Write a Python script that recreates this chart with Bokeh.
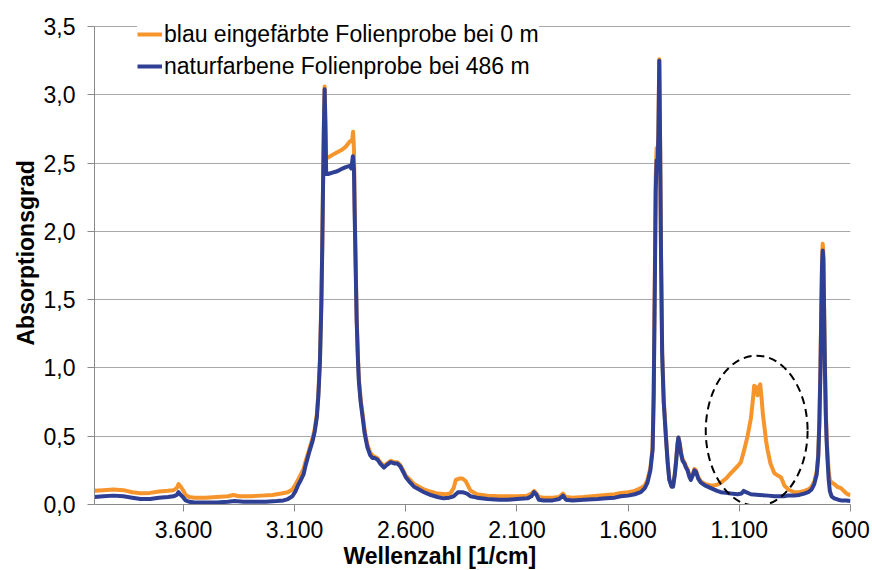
from bokeh.plotting import figure
from bokeh.models import (Range1d, FixedTicker, CustomJSTickFormatter, Legend,
                          LegendItem, Title, ColumnDataSource)
from bokeh.embed import file_html
from bokeh.resources import INLINE

# --- FTIR spectra: wavenumber [1/cm] and absorbance ---------------------------
wn_blau = [
    4000, 3960, 3915, 3870, 3830, 3793, 3750, 3710, 3670, 3645, 3630, 3622, 3612,
    3600, 3590, 3575, 3550, 3500, 3450, 3400, 3375, 3350, 3300, 3250, 3200, 3160,
    3131, 3110, 3095, 3085, 3075, 3060, 3050, 3035, 3020, 3010, 3000, 2993, 2986,
    2980, 2976, 2972, 2968, 2965, 2962, 2958, 2950, 2930, 2908, 2885, 2870, 2851,
    2842, 2837, 2833, 2830, 2825, 2821, 2815, 2811, 2803, 2795, 2785, 2773, 2760,
    2750, 2740, 2728, 2715, 2698, 2685, 2668, 2650, 2638, 2625, 2612, 2600, 2580,
    2563, 2540, 2518, 2490, 2458, 2420, 2400, 2385, 2375, 2360, 2345, 2330, 2318,
    2308, 2280, 2233, 2180, 2143, 2100, 2053, 2035, 2023, 2012, 2002, 1980, 1940,
    1910, 1893, 1880, 1850, 1800, 1738, 1700, 1660, 1633, 1600, 1570, 1543, 1525,
    1513, 1500, 1490, 1485, 1480, 1476, 1472, 1468, 1464, 1460, 1456, 1452, 1447,
    1440, 1430, 1422, 1415, 1405, 1398, 1390, 1384, 1378, 1374, 1368, 1362, 1355,
    1347, 1340, 1333, 1324, 1318, 1310, 1302, 1295, 1285, 1273, 1255, 1228, 1213,
    1200, 1183, 1160, 1138, 1120, 1108, 1093, 1078, 1063, 1048, 1040, 1033, 1026,
    1018, 1012, 1006, 1000, 994, 988, 980, 973, 960, 943, 925, 913, 905, 898, 880,
    853, 830, 808, 790, 775, 763, 752, 745, 740, 735, 731, 728, 725, 722, 719, 715,
    711, 707, 703, 698, 693, 685, 673, 660, 643, 625, 613, 600,
]
abs_blau = [
    0.10, 0.105, 0.11, 0.105, 0.09, 0.083, 0.085, 0.095, 0.10, 0.105, 0.12, 0.15, 0.13,
    0.10, 0.07, 0.055, 0.05, 0.05, 0.055, 0.06, 0.07, 0.06, 0.06, 0.065, 0.07, 0.08,
    0.09, 0.11, 0.15, 0.18, 0.21, 0.26, 0.32, 0.40, 0.48, 0.55, 0.66, 0.82, 1.07,
    1.47, 1.87, 2.37, 2.82, 3.06, 2.85, 2.55, 2.54, 2.56, 2.58, 2.60, 2.62, 2.66,
    2.66, 2.73, 2.60, 2.20, 1.72, 1.37, 1.07, 0.92, 0.77, 0.67, 0.54, 0.44, 0.38,
    0.36, 0.35, 0.34, 0.31, 0.28, 0.30, 0.32, 0.31, 0.31, 0.29, 0.25, 0.21, 0.18,
    0.15, 0.13, 0.11, 0.095, 0.08, 0.075, 0.08, 0.12, 0.18, 0.19, 0.19, 0.17, 0.13,
    0.10, 0.075, 0.065, 0.06, 0.06, 0.06, 0.065, 0.08, 0.10, 0.08, 0.055, 0.05, 0.05,
    0.055, 0.08, 0.055, 0.05, 0.055, 0.065, 0.07, 0.075, 0.085, 0.09, 0.10, 0.12, 0.14,
    0.18, 0.27, 0.42, 0.85, 1.70, 2.40, 2.61, 2.50, 2.75, 3.26, 2.62, 1.82, 1.12,
    0.77, 0.50, 0.31, 0.19, 0.14, 0.14, 0.23, 0.33, 0.45, 0.49, 0.45, 0.38, 0.33,
    0.31, 0.28, 0.26, 0.21, 0.19, 0.22, 0.26, 0.25, 0.20, 0.17, 0.15, 0.14, 0.14,
    0.145, 0.16, 0.19, 0.23, 0.26, 0.28, 0.31, 0.40, 0.50, 0.63, 0.75, 0.87, 0.86,
    0.80, 0.86, 0.88, 0.78, 0.66, 0.58, 0.47, 0.40, 0.30, 0.23, 0.21, 0.20, 0.17, 0.14, 0.11,
    0.09, 0.09, 0.10, 0.11, 0.13, 0.17, 0.24, 0.37, 0.62, 1.02, 1.48, 1.80, 1.91, 1.84, 1.48, 1.03,
    0.68, 0.48, 0.36, 0.24, 0.18, 0.16, 0.15, 0.13, 0.12, 0.09, 0.075, 0.07,
]

wn_natur = [
    4000, 3960, 3915, 3870, 3830, 3793, 3750, 3710, 3670, 3645, 3630, 3622, 3612,
    3600, 3590, 3575, 3550, 3500, 3450, 3400, 3370, 3330, 3280, 3230, 3180, 3150,
    3130, 3110, 3095, 3085, 3075, 3060, 3050, 3035, 3020, 3010, 3000, 2993, 2986,
    2980, 2976, 2972, 2968, 2965, 2962, 2958, 2950, 2930, 2908, 2885, 2870, 2851,
    2845, 2838, 2833, 2830, 2825, 2821, 2815, 2811, 2803, 2795, 2785, 2773, 2760,
    2750, 2740, 2728, 2715, 2698, 2685, 2668, 2650, 2638, 2625, 2612, 2600, 2580,
    2563, 2540, 2518, 2490, 2458, 2430, 2405, 2385, 2365, 2345, 2325, 2308, 2280,
    2233, 2180, 2143, 2100, 2053, 2035, 2023, 2012, 2002, 1980, 1940, 1910, 1893,
    1880, 1850, 1800, 1738, 1700, 1660, 1633, 1600, 1570, 1543, 1525, 1513, 1500,
    1490, 1485, 1480, 1476, 1472, 1468, 1464, 1460, 1456, 1452, 1447, 1440, 1430,
    1422, 1415, 1405, 1398, 1390, 1384, 1378, 1374, 1368, 1362, 1355, 1347, 1340,
    1333, 1324, 1318, 1310, 1302, 1295, 1285, 1273, 1255, 1228, 1200, 1183, 1160,
    1138, 1108, 1090, 1080, 1070, 1048, 1010, 970, 943, 900, 883, 853, 830, 808,
    790, 775, 763, 752, 745, 740, 735, 731, 728, 725, 722, 719, 715, 711, 707, 703,
    698, 693, 685, 673, 655, 643, 620, 600,
]
abs_natur = [
    0.055, 0.06, 0.065, 0.06, 0.05, 0.04, 0.04, 0.05, 0.055, 0.06, 0.07, 0.09, 0.07,
    0.05, 0.03, 0.02, 0.015, 0.015, 0.015, 0.02, 0.025, 0.02, 0.02, 0.02, 0.025, 0.03,
    0.04, 0.06, 0.10, 0.14, 0.17, 0.22, 0.29, 0.38, 0.46, 0.53, 0.64, 0.80, 1.05,
    1.45, 1.85, 2.35, 2.80, 3.04, 2.80, 2.42, 2.42, 2.43, 2.44, 2.46, 2.47, 2.48,
    2.46, 2.55, 2.45, 2.13, 1.70, 1.35, 1.05, 0.90, 0.75, 0.65, 0.52, 0.42, 0.36,
    0.34, 0.34, 0.33, 0.30, 0.27, 0.29, 0.31, 0.30, 0.30, 0.28, 0.24, 0.20, 0.16,
    0.13, 0.11, 0.09, 0.07, 0.055, 0.045, 0.05, 0.06, 0.09, 0.09, 0.08, 0.06, 0.05,
    0.04, 0.035, 0.035, 0.04, 0.045, 0.06, 0.09, 0.07, 0.035, 0.03, 0.03, 0.04, 0.065,
    0.035, 0.03, 0.035, 0.04, 0.045, 0.05, 0.06, 0.065, 0.075, 0.09, 0.12, 0.16, 0.25,
    0.40, 0.80, 1.60, 2.30, 2.52, 2.45, 2.70, 3.25, 2.60, 1.80, 1.10, 0.75, 0.49,
    0.30, 0.18, 0.13, 0.13, 0.22, 0.32, 0.44, 0.49, 0.44, 0.37, 0.32, 0.30, 0.27,
    0.25, 0.20, 0.18, 0.21, 0.25, 0.24, 0.19, 0.16, 0.14, 0.12, 0.10, 0.09, 0.085,
    0.08, 0.075, 0.08, 0.10, 0.09, 0.075, 0.07, 0.065, 0.06, 0.06, 0.065, 0.065, 0.07, 0.08,
    0.09, 0.11, 0.15, 0.22, 0.35, 0.60, 1.00, 1.45, 1.75, 1.86, 1.80, 1.45, 1.00, 0.65, 0.45, 0.32,
    0.18, 0.10, 0.06, 0.045, 0.035, 0.03, 0.03, 0.025,
]

series_labels = ["blau eingefärbte Folienprobe bei 0 m",
                 "naturfarbene Folienprobe bei 486 m"]
x_ticks = [600, 1100, 1600, 2100, 2600, 3100, 3600]
y_ticks = [0.0, 0.5, 1.0, 1.5, 2.0, 2.5, 3.0, 3.5]

# highlighted band around 1020 1/cm
ring_x, ring_y, ring_w, ring_h = 1022, 0.54, 458, 1.10

FONT = "Liberation Sans"
FS = "23px"
ORANGE = "#F5952B"
BLUE = "#2E3F94"
GRID = "#a8a8a8"
AXIS = "#8a8a8a"

# the value axis runs to 3.5; the frame reaches a little higher so the
# legend (sitting on the 3.5 line) is not clipped
Y_TOP = 3.5
FRAME_H_AXIS = 478      # pixels between 0 and 3.5
FRAME_H = 502           # full frame height
y_end = Y_TOP * FRAME_H / FRAME_H_AXIS

p = figure(width=872, height=570, output_backend="svg", toolbar_location=None,
           x_range=Range1d(4000, 600), y_range=Range1d(0, y_end),
           min_border_left=94, min_border_right=22, min_border_top=2,
           min_border_bottom=66)
p.outline_line_color = None
p.background_fill_color = "white"
p.border_fill_color = "white"
p.xgrid.visible = False
p.ygrid.grid_line_color = GRID
p.ygrid.grid_line_width = 1

for ax in (p.xaxis[0], p.yaxis[0]):
    ax.axis_line_color = AXIS
    ax.major_tick_line_color = AXIS
    ax.major_tick_out = 7
    ax.major_tick_in = 0
    ax.minor_tick_line_color = None
    ax.major_label_text_font = FONT
    ax.major_label_text_font_size = FS
    ax.major_label_text_color = "black"

p.yaxis.bounds = (0, Y_TOP)
p.xaxis.ticker = FixedTicker(ticks=x_ticks)
p.yaxis.ticker = FixedTicker(ticks=y_ticks)
p.ygrid.ticker = FixedTicker(ticks=y_ticks)
p.xaxis.formatter = CustomJSTickFormatter(code="""
    if (tick >= 1000) {
        return Math.floor(tick / 1000) + '.' + String(tick % 1000).padStart(3, '0');
    }
    return String(tick);
""")
p.yaxis.formatter = CustomJSTickFormatter(code="return tick.toFixed(1).replace('.', ',');")
p.xaxis.major_label_standoff = 9
p.yaxis.major_label_standoff = 12

src_blau = ColumnDataSource(dict(x=wn_blau, y=abs_blau))
src_natur = ColumnDataSource(dict(x=wn_natur, y=abs_natur))

r_blau = p.line("x", "y", source=src_blau, line_color=ORANGE, line_width=4,
                line_join="round")
r_natur = p.line("x", "y", source=src_natur, line_color=BLUE, line_width=4,
                 line_join="round")

p.ellipse(x=[ring_x], y=[ring_y], width=[ring_w], height=[ring_h],
          fill_color=None, line_color="black", line_width=2, line_dash="8 5")

# axis titles, placed relative to the whole chart area
p.add_layout(Title(text="Wellenzahl [1/cm]", align="left", offset=249,
                   text_font=FONT, text_font_size=FS, text_font_style="bold",
                   text_color="black", standoff=0), "below")
p.add_layout(Title(text="Absorptionsgrad", align="left", offset=159,
                   text_font=FONT, text_font_size=FS, text_font_style="bold",
                   text_color="black", standoff=4), "left")

legend = Legend(items=[LegendItem(label=series_labels[0], renderers=[r_blau]),
                       LegendItem(label=series_labels[1], renderers=[r_natur])],
                location=(43, 423), orientation="vertical")
legend.label_text_font = FONT
legend.label_text_font_size = FS
legend.label_text_color = "black"
legend.glyph_width = 25
legend.glyph_height = 30
legend.label_height = 30
legend.label_standoff = 2
legend.spacing = 2
legend.padding = 5
legend.margin = 0
legend.border_line_color = None
legend.background_fill_color = "white"
legend.background_fill_alpha = 1.0
p.add_layout(legend)

open("out.html", "w").write(file_html(p, INLINE))
